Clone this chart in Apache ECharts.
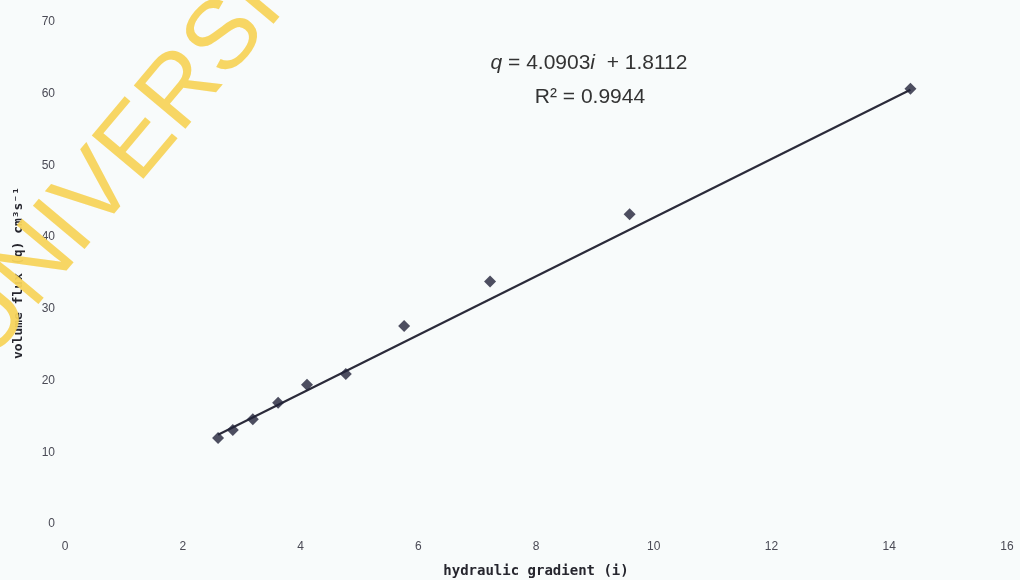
<!DOCTYPE html>
<html>
<head>
<meta charset="utf-8">
<script src="https://cdn.jsdelivr.net/npm/echarts@6/dist/echarts.min.js"></script>
<style>
  html, body { margin: 0; padding: 0; background: #f8fbfb; }
  #chart { width: 1020px; height: 580px; }
</style>
</head>
<body>
<div id="chart"></div>
<script>
// Measured hydraulic gradient (i) and volume flux (q)
const gradient = [2.60, 2.85, 3.19, 3.62, 4.11, 4.77, 5.76, 7.22, 9.59, 14.36];
const flux = [12.0, 13.1, 14.6, 16.9, 19.4, 20.9, 27.6, 33.8, 43.2, 60.7];

// Linear fit stated on the chart
const slope = 4.0903;
const intercept = 1.8112;
const rSquared = '0.9944';

const xTicks = { min: 0, max: 16, step: 2 };
const yTicks = { min: 0, max: 70, step: 10 };

const points = gradient.map((g, k) => [g, flux[k]]);
const iMin = Math.min(...gradient);
const iMax = Math.max(...gradient);
const fitLine = [iMin, iMax].map(g => [g, slope * g + intercept]);

const tickFont = { color: '#4a4a55', fontSize: 12, fontFamily: 'Liberation Sans, Arial, sans-serif' };
const titleFont = { color: '#26262e', fontWeight: 'bold', fontFamily: 'DejaVu Sans Mono, monospace' };

const chart = echarts.init(document.getElementById('chart'), null, { renderer: 'canvas' });

// diagonal stamp across the upper left
const stampAngle = 50 * Math.PI / 180;
const stampSize = 98;

chart.setOption({
  backgroundColor: '#f8fbfb',
  animation: false,
  grid: { left: 65, right: 13, top: 22, bottom: 56, containLabel: false, outerBoundsMode: 'none' },
  xAxis: {
    type: 'value',
    min: xTicks.min, max: xTicks.max, interval: xTicks.step,
    axisLine: { show: false }, axisTick: { show: false }, splitLine: { show: false },
    axisLabel: Object.assign({ margin: 17 }, tickFont),
    name: 'hydraulic gradient (i)',
    nameLocation: 'middle',
    nameGap: 40,
    nameTextStyle: Object.assign({ fontSize: 14 }, titleFont)
  },
  yAxis: {
    type: 'value',
    min: yTicks.min, max: yTicks.max, interval: yTicks.step,
    axisLine: { show: false }, axisTick: { show: false }, splitLine: { show: false },
    axisLabel: Object.assign({ margin: 10 }, tickFont),
    name: 'volume flux (q) cm³s⁻¹',
    nameLocation: 'middle',
    nameRotate: 90,
    nameGap: 40,
    nameTextStyle: Object.assign({ fontSize: 13 }, titleFont)
  },
  series: [
    {
      type: 'line',
      data: fitLine,
      showSymbol: false,
      silent: true,
      lineStyle: { color: '#2b2b3a', width: 2.2 },
      z: 2
    },
    {
      type: 'scatter',
      data: points,
      symbol: 'diamond',
      symbolSize: 12,
      itemStyle: { color: '#22233a' },
      z: 3
    }
  ],
  graphic: [
    {
      type: 'text',
      x: 589,
      y: 63,
      style: {
        text: '{it|q} = 4.0903{it|i}  + 1.8112',
        fill: '#333',
        font: '21px Liberation Sans, Arial, sans-serif',
        align: 'center',
        verticalAlign: 'middle',
        rich: {
          it: { fontStyle: 'italic', fontSize: 21, fontFamily: 'Liberation Sans, Arial, sans-serif', fill: '#333' }
        }
      }
    },
    {
      type: 'text',
      x: 590,
      y: 97,
      style: {
        text: 'R² = ' + rSquared,
        fill: '#333',
        font: '21px Liberation Sans, Arial, sans-serif',
        align: 'center',
        verticalAlign: 'middle'
      }
    },
    {
      type: 'text',
      x: -33,
      y: 347,
      rotation: stampAngle,
      z: 100,
      silent: true,
      style: {
        text: 'UNIVERSITY OF NAIROBI',
        fill: 'rgba(247, 212, 92, 0.95)',
        font: stampSize + 'px Liberation Sans, Arial, sans-serif',
        align: 'left',
        verticalAlign: 'middle'
      }
    }
  ]
});
</script>
</body>
</html>
